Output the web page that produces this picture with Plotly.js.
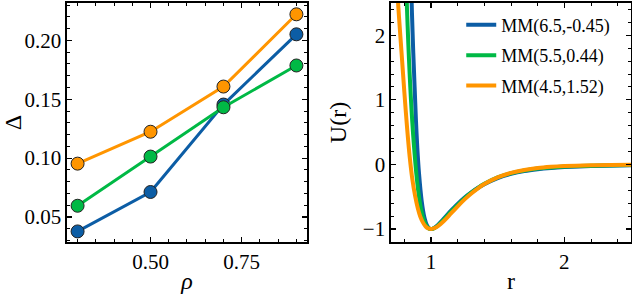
<!DOCTYPE html>
<html>
<head>
<meta charset="utf-8">
<script src="https://cdn.plot.ly/plotly-3.0.1.min.js"></script>
<style>html,body{margin:0;padding:0;background:#fff;}#chart{width:632px;height:294px;}</style>
</head>
<body>
<div id="chart"></div>
<script>
// ---- Left panel: Delta vs rho ----
const rho = [0.3, 0.5, 0.7, 0.9];
const deltaBlue = [0.0377, 0.0712, 0.1455, 0.2052];
const deltaGreen = [0.0595, 0.1013, 0.1432, 0.1787];
const deltaOrange = [0.0953, 0.1224, 0.1608, 0.2222];

// ---- Right panel: U(r) curves ----
const seriesNames = ["MM(6.5,-0.45)", "MM(5.5,0.44)", "MM(4.5,1.52)"];
const rBlue = [0.847, 0.857, 0.867, 0.877, 0.887, 0.897, 0.91, 0.93, 0.95, 0.97, 0.99, 1.0, 1.02, 1.05, 1.1, 1.15, 1.2, 1.25, 1.3, 1.35, 1.4, 1.5, 1.6, 1.7, 1.8, 1.9, 2.0, 2.2, 2.5];
const uBlue = [3.08, 2.35, 1.73, 1.20, 0.685, 0.266, -0.139, -0.564, -0.815, -0.943, -0.995, -1.0, -0.988, -0.94, -0.83, -0.715, -0.61, -0.515, -0.435, -0.365, -0.305, -0.21, -0.145, -0.10, -0.072, -0.053, -0.04, -0.024, -0.013];
const rGreen = [0.81, 0.82, 0.83, 0.84, 0.85, 0.86, 0.87, 0.89, 0.91, 0.93, 0.95, 0.97, 0.99, 1.0, 1.02, 1.05, 1.1, 1.15, 1.2, 1.25, 1.3, 1.35, 1.4, 1.5, 1.6, 1.7, 1.8, 1.9, 2.0, 2.2, 2.5];
const uGreen = [3.02, 2.40, 1.86, 1.39, 0.99, 0.643, 0.345, -0.146, -0.503, -0.739, -0.886, -0.963, -0.997, -1.0, -0.988, -0.948, -0.845, -0.73, -0.625, -0.525, -0.44, -0.365, -0.30, -0.2, -0.135, -0.092, -0.063, -0.045, -0.033, -0.018, -0.008];
const rOrange = [0.73, 0.74, 0.75, 0.76, 0.78, 0.80, 0.82, 0.84, 0.86, 0.88, 0.90, 0.92, 0.94, 0.96, 0.98, 1.0, 1.02, 1.05, 1.1, 1.15, 1.2, 1.25, 1.3, 1.35, 1.4, 1.5, 1.6, 1.7, 1.8, 1.9, 2.0, 2.2, 2.5];
const uOrange = [3.3, 2.95, 2.6, 2.28, 1.70, 1.12, 0.58, 0.12, -0.23, -0.48, -0.67, -0.81, -0.90, -0.96, -0.99, -1.0, -0.99, -0.958, -0.868, -0.758, -0.648, -0.544, -0.452, -0.372, -0.303, -0.200, -0.130, -0.085, -0.055, -0.036, -0.023, -0.01, -0.003];

const cBlue = "#0C5DA5", cGreen = "#00B945", cOrange = "#FF9500";
const FONT = "Liberation Serif, 'DejaVu Serif', serif";

function leftTrace(y, c) {
  return {x: rho, y: y, xaxis: "x", yaxis: "y", type: "scatter", mode: "lines+markers",
    line: {color: c, width: 3}, marker: {color: c, size: 13, line: {color: "#222", width: 1}},
    showlegend: false, hoverinfo: "skip"};
}
function rightTrace(x, y, c, name) {
  return {x: x, y: y, xaxis: "x2", yaxis: "y2", type: "scatter", mode: "lines", name: name,
    legendgroup: name, line: {color: c, width: 4, shape: "spline", smoothing: 0.8}, hoverinfo: "skip"};
}

const data = [
  leftTrace(deltaBlue, cBlue), leftTrace(deltaGreen, cGreen), leftTrace(deltaOrange, cOrange),
  rightTrace(rBlue, uBlue, cBlue, seriesNames[0]),
  rightTrace(rGreen, uGreen, cGreen, seriesNames[1]),
  rightTrace(rOrange, uOrange, cOrange, seriesNames[2])
];

const axBase = {
  showline: true, linecolor: "#000", linewidth: 1.6, mirror: "allticks",
  ticks: "inside", ticklen: 5, tickwidth: 1.2, tickcolor: "#000",
  showgrid: false, zeroline: false, automargin: false,
  tickfont: {family: FONT, size: 21, color: "#000"}
};
function ax(extra) { return Object.assign({}, axBase, extra); }

const layout = {
  width: 632, height: 294,
  margin: {l: 67, r: 1, t: 3, b: 52},
  paper_bgcolor: "#fff", plot_bgcolor: "#fff",
  font: {family: FONT, color: "#000"},
  showlegend: true,
  legend: {x: 0.699, y: 0.985, xanchor: "left", yanchor: "top", bgcolor: "rgba(0,0,0,0)",
    font: {family: FONT, size: 18, color: "#000"}, tracegroupgap: 4},
  xaxis: ax({domain: [0, 0.4255], range: [0.271, 0.929], tickvals: [0.5, 0.75], ticktext: ["0.50", "0.75"],
    minor: {ticks: "inside", dtick: 0.05, tick0: 0, ticklen: 3, tickwidth: 1, tickcolor: "#000"},
    title: {text: "<i>ρ</i>", font: {family: FONT, size: 24}, standoff: 8}}),
  yaxis: ax({domain: [0, 1], range: [0.0287, 0.2318], tickvals: [0.05, 0.10, 0.15, 0.20], ticktext: ["0.05", "0.10", "0.15", "0.20"],
    minor: {ticks: "inside", dtick: 0.01, tick0: 0, ticklen: 3, tickwidth: 1, tickcolor: "#000"},
    title: {text: "Δ", font: {family: FONT, size: 24}, standoff: 10}}),
  xaxis2: ax({domain: [0.5745, 1], range: [0.7, 2.5], tickvals: [1, 2], ticktext: ["1", "2"], anchor: "y2",
    minor: {ticks: "inside", dtick: 0.2, tick0: 0, ticklen: 3, tickwidth: 1, tickcolor: "#000"},
    title: {text: "r", font: {family: FONT, size: 24}, standoff: 8}}),
  yaxis2: ax({domain: [0, 1], range: [-1.2, 2.5], tickvals: [-1, 0, 1, 2], ticktext: ["−1", "0", "1", "2"], anchor: "x2",
    minor: {ticks: "inside", dtick: 0.2, tick0: 0, ticklen: 3, tickwidth: 1, tickcolor: "#000"},
    title: {text: "U(r)", font: {family: FONT, size: 24}, standoff: 9}})
};

Plotly.newPlot("chart", data, layout, {staticPlot: true, displayModeBar: false});
</script>
</body>
</html>
